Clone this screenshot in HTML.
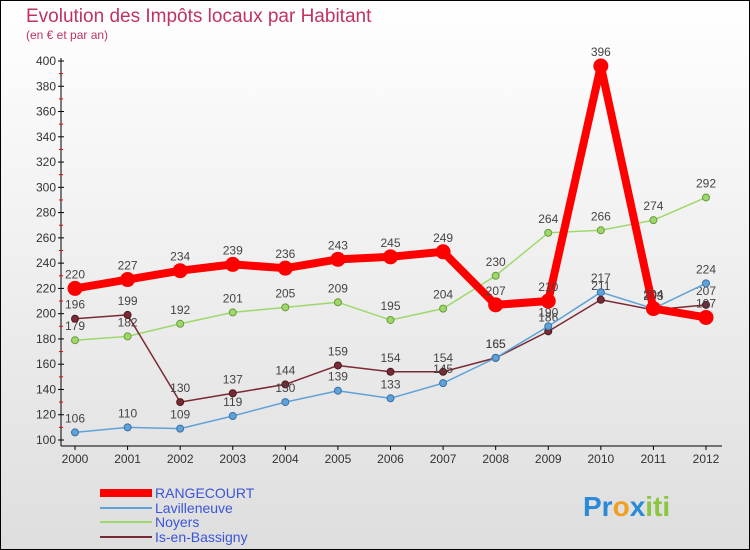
<!DOCTYPE html>
<html><head><meta charset="utf-8"><style>
body{margin:0}
#wrap{width:750px;height:550px;position:relative;overflow:hidden}
</style></head><body>
<div id="wrap">
<svg id="svg" width="750" height="550" xmlns="http://www.w3.org/2000/svg" font-family="Liberation Sans, sans-serif">
<defs><linearGradient id="bg" x1="0" y1="0" x2="0" y2="1"><stop offset="0" stop-color="#ffffff"/><stop offset="1" stop-color="#dedede"/></linearGradient></defs>
<rect x="0.5" y="0.5" width="749" height="549" fill="url(#bg)" stroke="#000"/>
<text x="26" y="22" font-size="19" fill="#c0335f">Evolution des Impôts locaux par Habitant</text>
<text x="26" y="39" font-size="12" fill="#c0335f">(en € et par an)</text>
<g id="axes"></g><g id="series"></g>
<g>
<rect x="100" y="489" width="52" height="8" fill="#ff0000"/>
<text x="155" y="498" font-size="14" fill="#3b55d8">RANGECOURT</text>
<rect x="100" y="507" width="52" height="2" fill="#5fa2d8"/>
<text x="155" y="513" font-size="14" fill="#3b55d8">Lavilleneuve</text>
<rect x="100" y="521" width="52" height="2" fill="#9ed86a"/>
<text x="155" y="527" font-size="14" fill="#3b55d8">Noyers</text>
<rect x="100" y="536" width="52" height="2" fill="#7a2a35"/>
<text x="155" y="542" font-size="14" fill="#3b55d8">Is-en-Bassigny</text>
</g>
<text x="583" y="516" font-size="28" font-weight="bold"><tspan fill="#2a8ad8">Pr</tspan><tspan fill="#f0a020">o</tspan><tspan fill="#2a8ad8">x</tspan><tspan fill="#8cc63e">iti</tspan></text>
</svg></div>
<script>
const years=[2000,2001,2002,2003,2004,2005,2006,2007,2008,2009,2010,2011,2012];
const yTicks=[100,120,140,160,180,200,220,240,260,280,300,320,340,360,380,400];
const rangecourt=[220,227,234,239,236,243,245,249,207,210,396,204,197];
const lavilleneuve=[106,110,109,119,130,139,133,145,165,190,217,204,224];
const noyers=[179,182,192,201,205,209,195,204,230,264,266,274,292];
const isBassigny=[196,199,130,137,144,159,154,154,165,186,211,203,207];
const NS='http://www.w3.org/2000/svg';
const X=i=>75+i*(706-75)/12;
const Y=v=>440-(v-100)*(440-61)/300;
function mk(t,a,p){const e=document.createElementNS(NS,t);for(const k in a)e.setAttribute(k,a[k]);p.appendChild(e);return e;}
const ax=document.getElementById('axes'),sg=document.getElementById('series');
const yl=mk('line',{x1:61,y1:58,x2:61,y2:446,stroke:'#000'},ax);

const xl=mk('line',{x1:61,y1:446,x2:722,y2:446,stroke:'#000'},ax);

yTicks.forEach(v=>{mk('line',{x1:58,y1:Y(v),x2:64,y2:Y(v),stroke:'#000'},ax);
 if(v<400)mk('line',{x1:59,y1:Y(v+10),x2:63,y2:Y(v+10),stroke:'#e00'},ax);
 const t=mk('text',{x:56,y:Y(v)+4,'text-anchor':'end','font-size':12,fill:'#333'},ax);t.textContent=v;
 });
years.forEach((y,i)=>{mk('line',{x1:X(i),y1:446,x2:X(i),y2:450,stroke:'#000'},ax);
 const t=mk('text',{x:X(i),y:463,'text-anchor':'middle','font-size':12,fill:'#333'},ax);t.textContent=y;
 });
function series(d,c,w,r,name,dc){
 const g=mk('g',{},sg);
 mk('polyline',{points:d.map((v,i)=>X(i)+','+Y(v)).join(' '),fill:'none',stroke:c,'stroke-width':w,'stroke-linejoin':'round'},g);
 d.forEach((v,i)=>{const p=mk('circle',{cx:X(i),cy:Y(v),r:r,fill:c,stroke:dc,'stroke-width':1},g);
  
  const t=mk('text',{x:X(i),y:Y(v)-10,'text-anchor':'middle','font-size':12,fill:'#444'},g);t.textContent=v;
  });
}
series(noyers,'#9ed86a',1.5,3.5,'noyers','#6a9a3a');
series(isBassigny,'#7a2a35',1.5,3.5,'is-en-bassigny','#4a1a20');
series(lavilleneuve,'#5fa2d8',1.5,3.5,'lavilleneuve','#3a70a8');
series(rangecourt,'#ff0000',8,7,'rangecourt','#ff0000');
</script>
</body></html>
